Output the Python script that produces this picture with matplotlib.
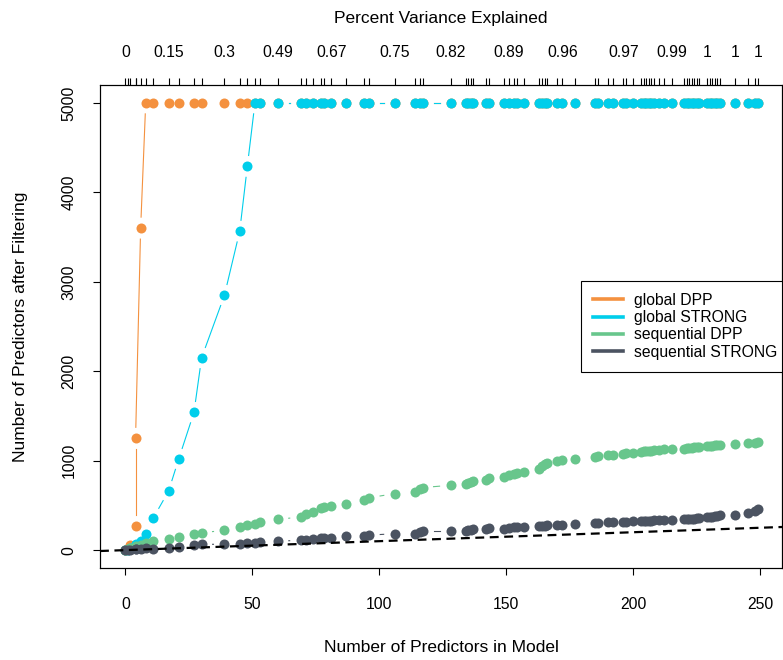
import numpy as np
import matplotlib
matplotlib.use('Agg')
import matplotlib.pyplot as plt
from matplotlib.lines import Line2D

# number of predictors in the model at each lambda step
n_model = [0, 1, 2, 4, 4, 6, 8, 11, 17, 21, 27, 30, 39, 45, 48, 51, 53,
           60, 69, 71, 74, 77, 78, 81, 87, 94, 96, 106, 114, 116, 117,
           128, 134, 135, 136, 137, 142, 143, 149, 151, 153, 154, 157, 163, 164, 165, 166,
           170, 172, 177, 185, 186, 190, 192, 196, 197, 200, 203, 204, 205, 206, 207, 208,
           210, 212, 215, 220, 221, 222, 223, 224, 225, 226, 229, 230, 231, 232, 233, 234,
           240, 245, 248, 249]

global_dpp = [0, 15, 55, 270, 1250, 3600] + [5000] * 77
global_strong = [0, 5, 20, 60, 70, 100, 183, 360, 660, 1020, 1540, 2150, 2850, 3565, 4290] + [5000] * 68
seq_dpp = [0, 8, 20, 40, 45, 60, 82, 100, 120, 146, 183, 194, 221, 258, 280, 295, 317,
           344, 370, 400, 430, 467, 480, 497, 519, 557, 586, 631, 654, 680, 699,
           725, 743, 752, 762, 773, 788, 804, 815, 841, 855, 865, 878, 905, 940, 961, 979,
           998, 1006, 1017, 1043, 1048, 1060, 1065, 1080, 1085, 1091, 1102, 1105, 1108, 1110, 1113, 1116,
           1120, 1128, 1136, 1136, 1140, 1143, 1146, 1148, 1150, 1152, 1160, 1163, 1168, 1172, 1174, 1176,
           1185, 1192, 1200, 1207]
seq_strong = [0, 3, 6, 10, 12, 18, 26, 15, 26, 37, 53, 64, 66, 71, 82, 84, 90,
              101, 109, 115, 125, 131, 135, 138, 157, 157, 168, 183, 183, 200, 213,
              213, 215, 220, 228, 232, 240, 250, 240, 250, 255, 258, 258, 265, 270, 272, 276,
              280, 283, 290, 305, 307, 310, 312, 315, 318, 320, 325, 327, 328, 330, 330, 332,
              333, 335, 335, 345, 347, 348, 350, 352, 354, 356, 365, 370, 375, 380, 385, 388,
              395, 420, 440, 455]

# percent variance explained shown on the top axis
pve_at = [0, 17, 39, 60, 81, 106, 128, 151, 172, 196, 215, 229, 240, 249]
pve_labels = ['0', '0.15', '0.3', '0.49', '0.67', '0.75', '0.82', '0.89', '0.96',
              '0.97', '0.99', '1', '1', '1']

series = [('global DPP', global_dpp, '#F4913F'),
          ('global STRONG', global_strong, '#00CEEB'),
          ('sequential DPP', seq_dpp, '#68C68C'),
          ('sequential STRONG', seq_strong, '#4B5361')]

plt.rcParams['font.family'] = ['Liberation Sans', 'DejaVu Sans']

W, H = 783, 660
fig = plt.figure(figsize=(W / 100, H / 100), dpi=100)
left, right, top, bottom = 100, 782, 85, 568
ax = fig.add_axes([left / W, 1 - bottom / H, (right - left) / W, (bottom - top) / H])
ax.set_xlim(-10, 258.5)
ax.set_ylim(-200, 5200)


def gap_lines(ax, xs, ys, color, gap=11):
    # R style type="b": segments stop short of the points
    pts = ax.transData.transform(np.column_stack([xs, ys]))
    inv = ax.transData.inverted()
    for p, q in zip(pts[:-1], pts[1:]):
        d = np.hypot(*(q - p))
        if d <= 2 * gap:
            continue
        u = (q - p) / d
        a = inv.transform(p + u * gap)
        b = inv.transform(q - u * gap)
        ax.plot([a[0], b[0]], [a[1], b[1]], color=color, lw=0.8)


for name, ys, col in series:
    gap_lines(ax, n_model, ys, col)
    ax.plot(n_model, ys, 'o', color=col, ms=7.2, mew=0, ls='none')

ax.axline((0, 0), slope=1, color='black', lw=1.6, ls=(0, (4, 2.5)))

for s in ax.spines.values():
    s.set_linewidth(0.8)
ax.set_xticks([0, 50, 100, 150, 200, 250])
ax.set_yticks([0, 1000, 2000, 3000, 4000, 5000])
ax.tick_params(axis='x', direction='out', length=5, width=0.8, labelsize=11.3, pad=16)
ax.tick_params(axis='y', direction='out', length=5, width=0.8, labelsize=11.3, pad=12)
for t in ax.get_yticklabels():
    t.set_rotation(90)
    t.set_va('center')

ax.set_xlabel('Number of Predictors in Model', fontsize=12.5)
ax.xaxis.set_label_coords(0.5, (bottom - 648) / (bottom - top))
ax.xaxis.label.set_va('center')
ax.set_ylabel('Number of Predictors after Filtering', fontsize=12.5)
ax.yaxis.set_label_coords((21 - left) / (right - left), 0.5)
ax.yaxis.label.set_va('center')

# top axis: ticks at every step, labels at a few of them
ax2 = ax.twiny()
ax2.set_xlim(ax.get_xlim())
ax2.set_xticks(n_model, minor=True)
ax2.set_xticks(pve_at)
ax2.set_xticklabels(pve_labels)
ax2.tick_params(which='both', direction='out', length=5, width=0.8, labelsize=11.3, pad=13)
ax2.set_xlabel('Percent Variance Explained', fontsize=12.5)
ax2.xaxis.set_label_coords(0.5, (bottom - 18) / (bottom - top))
ax2.xaxis.label.set_va('center')

handles = [Line2D([], [], color=c, lw=2.6) for _, _, c in series]
leg = ax.legend(handles, [n for n, _, _ in series], loc='upper left',
                bbox_to_anchor=(581 / W, 1 - 281 / H), bbox_transform=fig.transFigure,
                borderaxespad=0, fancybox=False, edgecolor='black', framealpha=1,
                fontsize=11.3, handlelength=1.9, handletextpad=0.75, labelspacing=0.15,
                borderpad=0.75)
leg.get_frame().set_linewidth(0.8)

fig.savefig('out.png', dpi=100)
